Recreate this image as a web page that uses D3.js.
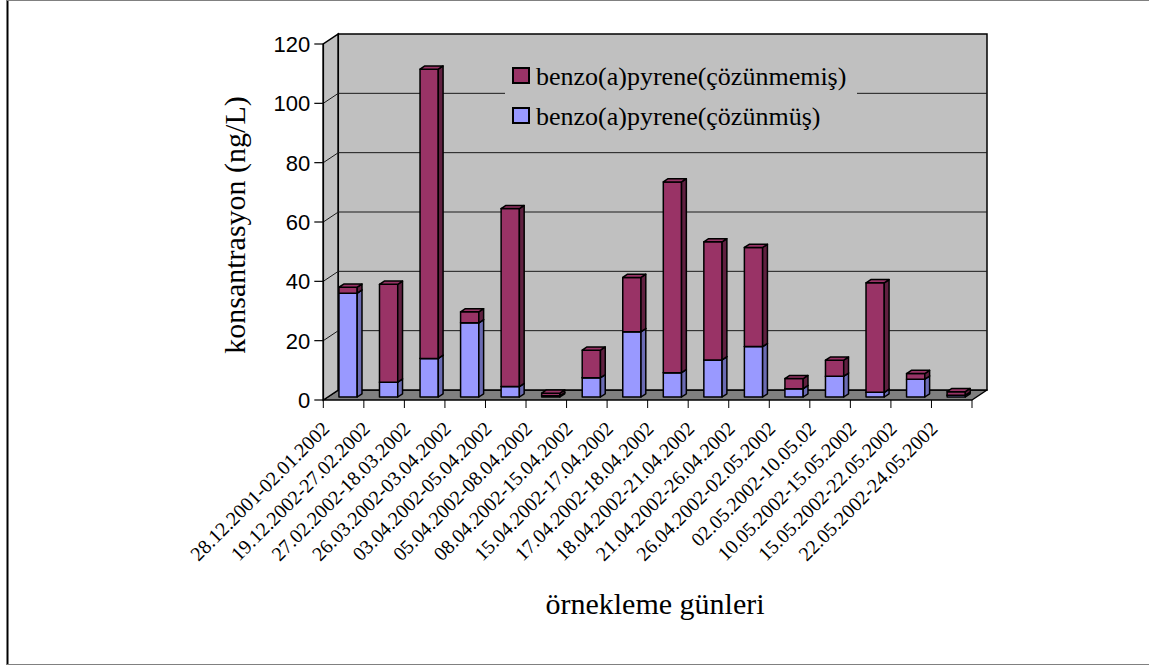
<!DOCTYPE html>
<html>
<head>
<meta charset="utf-8">
<script src="https://cdn.jsdelivr.net/npm/d3@7"></script>
<style>
  html, body { margin: 0; padding: 0; background: #fff; }
  svg { display: block; }
</style>
</head>
<body>
<svg id="chart" width="1149" height="665"></svg>
<script>
// Sampling periods
const categories = [
  "28.12.2001-02.01.2002", "19.12.2002-27.02.2002", "27.02.2002-18.03.2002",
  "26.03.2002-03.04.2002", "03.04.2002-05.04.2002", "05.04.2002-08.04.2002",
  "08.04.2002-15.04.2002", "15.04.2002-17.04.2002", "17.04.2002-18.04.2002",
  "18.04.2002-21.04.2002", "21.04.2002-26.04.2002", "26.04.2002-02.05.2002",
  "02.05.2002-10.05.02", "10.05.2002-15.05.2002", "15.05.2002-22.05.2002",
  "22.05.2002-24.05.2002"
];
// benzo(a)pyrene, dissolved phase (ng/L)
const dissolved = [35, 5, 13, 25, 3.5, 0.4, 6.5, 22, 8.2, 12.5, 17, 2.8, 7, 1.6, 6, 0.6];
// benzo(a)pyrene, particulate (undissolved) phase (ng/L)
const undissolved = [2, 33, 97.5, 3.7, 60, 0.9, 9.3, 18.3, 64.3, 39.8, 33.4, 3.4, 5.4, 36.9, 1.9, 1.2];
const yTicks = [0, 20, 40, 60, 80, 100, 120];
const seriesNames = ["benzo(a)pyrene(çözünmemiş)", "benzo(a)pyrene(çözünmüş)"];

const svg = d3.select("#chart");
const serif = "'Liberation Serif', 'Times New Roman', serif";

// page frame
svg.append("line").attr("x1", 7.5).attr("x2", 7.5).attr("y1", 0).attr("y2", 665)
  .attr("stroke", "#000").attr("stroke-width", 2);
svg.append("line").attr("x1", 7).attr("x2", 1149).attr("y1", 0.5).attr("y2", 0.5)
  .attr("stroke", "#808080").attr("stroke-width", 1);
svg.append("line").attr("x1", 7).attr("x2", 1149).attr("y1", 664.5).attr("y2", 664.5)
  .attr("stroke", "#808080").attr("stroke-width", 1);

// 3D plot geometry
const X0 = 323.3, X1 = 972;
const DX = 15, DY = -10;          // full depth offset of the back wall
const F1 = 0.3, F2 = 0.62;        // bar front / back depth fractions

const x = d3.scaleBand().domain(categories).range([X0, X1])
  .paddingInner(0.55).paddingOuter(0.275);
const xEdge = d3.scaleLinear().domain([0, categories.length]).range([X0, X1]);
const y = d3.scaleLinear().domain([0, 120]).range([400, 44]);

const P = (px, py, f) => [px + DX * f, py + DY * f];
const poly = pts => "M" + pts.map(p => p.join(",")).join("L") + "Z";

// floor
svg.append("path")
  .attr("d", poly([P(X0, y(0), 0), P(X1, y(0), 0), P(X1, y(0), 1), P(X0, y(0), 1)]))
  .attr("fill", "#808080").attr("stroke", "#000").attr("stroke-width", 1.5)
  .attr("stroke-linejoin", "round");
// left wall
svg.append("path")
  .attr("d", poly([P(X0, y(0), 0), P(X0, y(0), 1), P(X0, y(120), 1), P(X0, y(120), 0)]))
  .attr("fill", "#c0c0c0").attr("stroke", "#000").attr("stroke-width", 1.5);
// back wall
svg.append("path")
  .attr("d", poly([P(X0, y(0), 1), P(X1, y(0), 1), P(X1, y(120), 1), P(X0, y(120), 1)]))
  .attr("fill", "#c0c0c0").attr("stroke", "#000").attr("stroke-width", 1.5);

// gridlines on both walls
const grid = svg.append("g").attr("stroke", "#1a1a1a").attr("stroke-width", 1).attr("fill", "none");
yTicks.filter(v => v > 0 && v < 120).forEach(v => {
  grid.append("path").attr("d", "M" + P(X0, y(v), 0).join(",") + "L" + P(X0, y(v), 1).join(",")
    + "L" + P(X1, y(v), 1).join(","));
});

// y axis ticks and labels
const yAxis = svg.append("g");
yAxis.append("line").attr("x1", X0).attr("x2", X0).attr("y1", y(0)).attr("y2", y(120))
  .attr("stroke", "#000").attr("stroke-width", 1.5);
yTicks.forEach(v => {
  yAxis.append("line").attr("x1", X0 - 9).attr("x2", X0).attr("y1", y(v)).attr("y2", y(v))
    .attr("stroke", "#000").attr("stroke-width", 1.2);
  yAxis.append("text").attr("x", X0 - 13).attr("y", y(v)).attr("dy", "0.36em")
    .attr("text-anchor", "end").attr("font-family", "'Liberation Sans', Arial, sans-serif")
    .attr("font-size", 22).text(v);
});

// x axis ticks at category boundaries
d3.range(categories.length + 1).forEach(i => {
  svg.append("line").attr("x1", xEdge(i)).attr("x2", xEdge(i)).attr("y1", y(0)).attr("y2", y(0) + 8)
    .attr("stroke", "#000").attr("stroke-width", 1);
});

// legend (covers the gridline behind it)
const legend = svg.append("g");
legend.append("rect").attr("x", 505).attr("y", 56).attr("width", 352).attr("height", 80)
  .attr("fill", "#c0c0c0");
const legendItems = [
  { name: seriesNames[0], color: "#993366", yy: 76 },
  { name: seriesNames[1], color: "#9999ff", yy: 116 }
];
legendItems.forEach(d => {
  legend.append("rect").attr("x", 513).attr("y", d.yy - 8).attr("width", 16).attr("height", 15)
    .attr("fill", d.color).attr("stroke", "#000").attr("stroke-width", 2);
  legend.append("text").attr("x", 536).attr("y", d.yy + 9)
    .attr("font-family", serif).attr("font-size", 26)
    .text(d.name);
});

// stacked 3D bars
const shade = (c, k) => d3.rgb(c).darker(k).formatHex();
const stacks = categories.map((c, i) => [
  { cat: c, v0: 0, v1: dissolved[i], color: "#9999ff" },
  { cat: c, v0: dissolved[i], v1: dissolved[i] + undissolved[i], color: "#993366" }
]);
const bars = svg.append("g").attr("stroke", "#000").attr("stroke-width", 1.5)
  .attr("stroke-linejoin", "round");
stacks.forEach(stack => {
  stack.forEach(s => {
    const bx0 = x(s.cat), bx1 = x(s.cat) + x.bandwidth();
    const yb = y(s.v0), yt = y(s.v1);
    // front
    bars.append("path").attr("fill", s.color)
      .attr("d", poly([P(bx0, yb, F1), P(bx1, yb, F1), P(bx1, yt, F1), P(bx0, yt, F1)]));
    // side
    bars.append("path").attr("fill", shade(s.color, s.color === "#993366" ? 1.3 : 1.0))
      .attr("d", poly([P(bx1, yb, F1), P(bx1, yb, F2), P(bx1, yt, F2), P(bx1, yt, F1)]));
    // top
    bars.append("path").attr("fill", s.color)
      .attr("d", poly([P(bx0, yt, F1), P(bx1, yt, F1), P(bx1, yt, F2), P(bx0, yt, F2)]));
  });
});

// category labels, rotated
const xl = svg.append("g").attr("font-family", serif).attr("font-size", 20);
categories.forEach(c => {
  const cx = x(c) + x.bandwidth() / 2 - 13;
  xl.append("text").attr("text-anchor", "end")
    .attr("transform", `translate(${cx},430) rotate(-45)`).text(c);
});

// axis titles
svg.append("text").attr("text-anchor", "middle")
  .attr("font-family", serif).attr("font-size", 30)
  .attr("transform", "translate(245,225) rotate(-90)").text("konsantrasyon (ng/L)");
svg.append("text").attr("x", 655).attr("y", 614).attr("text-anchor", "middle")
  .attr("font-family", serif).attr("font-size", 30)
  .text("örnekleme günleri");
</script>
</body>
</html>
